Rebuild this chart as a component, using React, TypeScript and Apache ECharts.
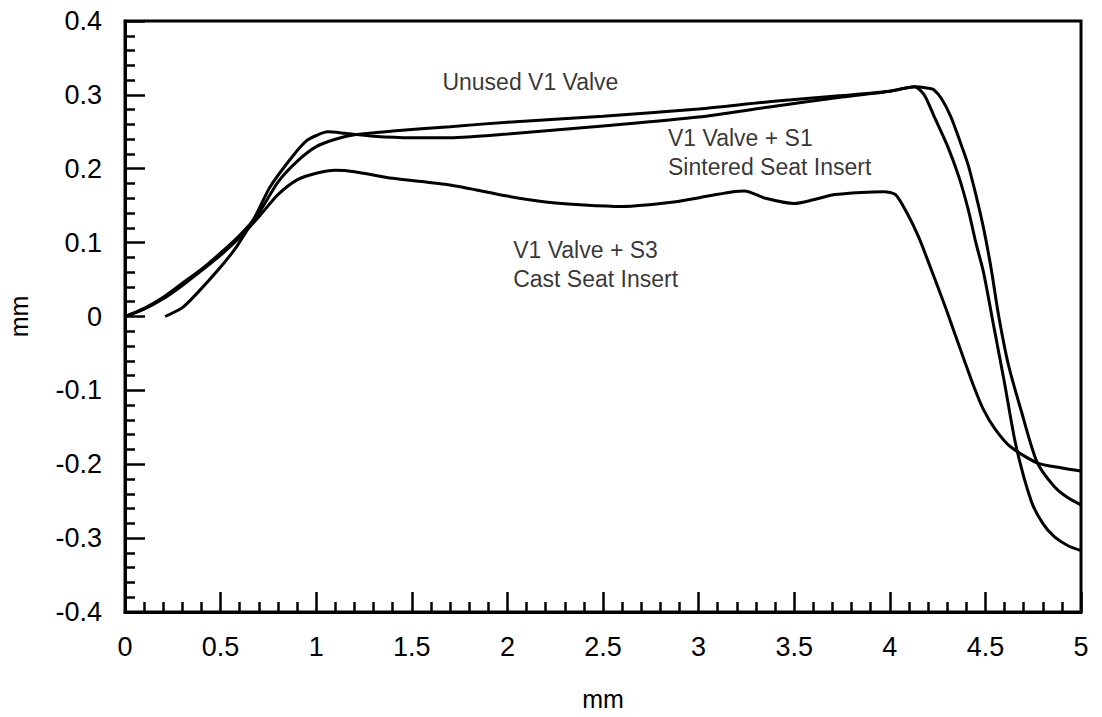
import React, { useEffect, useRef } from "react";
import * as echarts from "echarts";

// [x (mm), y (mm)] traces
const unusedV1: [number, number][] = [
  [0, 0], [0.1, 0.011], [0.2, 0.026], [0.3, 0.045], [0.4, 0.064], [0.5, 0.086],
  [0.6, 0.11], [0.7, 0.14], [0.8, 0.182], [0.9, 0.21], [1.0, 0.23], [1.1, 0.24],
  [1.2, 0.246], [1.4, 0.251], [1.7, 0.257], [2.0, 0.263], [2.5, 0.271], [3.0, 0.281],
  [3.38, 0.291], [3.75, 0.299], [4.0, 0.305], [4.13, 0.311], [4.2, 0.309], [4.23, 0.307],
  [4.27, 0.295], [4.32, 0.27], [4.37, 0.235], [4.41, 0.205], [4.45, 0.165], [4.49, 0.12],
  [4.53, 0.065], [4.57, 0.0], [4.62, -0.065], [4.69, -0.13], [4.77, -0.197], [4.86, -0.23],
  [4.93, -0.245], [5.0, -0.255],
];

const s1Sintered: [number, number][] = [
  [0.21, 0.0], [0.3, 0.012], [0.375, 0.031], [0.5, 0.067], [0.585, 0.095], [0.68, 0.135],
  [0.76, 0.176], [0.88, 0.218], [0.95, 0.238], [1.0, 0.245], [1.06, 0.25], [1.15, 0.248],
  [1.3, 0.244], [1.5, 0.242], [1.7, 0.242], [2.0, 0.247], [2.5, 0.258], [3.0, 0.27],
  [3.38, 0.284], [3.75, 0.297], [4.0, 0.305], [4.13, 0.311], [4.18, 0.3], [4.23, 0.272],
  [4.3, 0.232], [4.36, 0.19], [4.41, 0.145], [4.45, 0.1], [4.49, 0.06], [4.545, -0.015],
  [4.6, -0.09], [4.66, -0.175], [4.74, -0.25], [4.8, -0.28], [4.86, -0.298], [4.93, -0.31],
  [5.0, -0.317],
];

const s3Cast: [number, number][] = [
  [0, 0], [0.1, 0.01], [0.2, 0.024], [0.3, 0.042], [0.4, 0.062], [0.5, 0.083],
  [0.6, 0.107], [0.7, 0.135], [0.8, 0.165], [0.9, 0.185], [1.0, 0.194], [1.1, 0.198],
  [1.2, 0.196], [1.4, 0.187], [1.7, 0.178], [2.0, 0.163], [2.2, 0.155], [2.4, 0.151],
  [2.6, 0.149], [2.87, 0.155], [3.05, 0.163], [3.18, 0.169], [3.24, 0.17], [3.35, 0.16],
  [3.5, 0.153], [3.6, 0.158], [3.71, 0.165], [3.85, 0.168], [3.97, 0.169], [4.03, 0.165],
  [4.09, 0.14], [4.15, 0.108], [4.2, 0.075], [4.27, 0.027], [4.3, 0.006], [4.37, -0.045],
  [4.44, -0.095], [4.49, -0.126], [4.55, -0.152], [4.63, -0.176], [4.77, -0.198],
  [4.9, -0.205], [5.0, -0.209],
];

const annotationTexts = [
  "Unused V1 Valve",
  "V1 Valve + S1\nSintered Seat Insert",
  "V1 Valve + S3\nCast Seat Insert",
];
const annotationAnchors: [number, number][] = [
  [1.66, 0.317],
  [2.84, 0.222],
  [2.03, 0.071],
];

const xAxisName = "mm";
const yAxisName = "mm";

const FONT = "'Liberation Sans', Arial, Helvetica, sans-serif";

export default function App() {
  const ref = useRef<HTMLDivElement>(null);

  useEffect(() => {
    document.body.style.margin = "0";
    if (!ref.current) return;
    const chart = echarts.init(ref.current, undefined, { renderer: "svg" });

    const lineSeries = (name: string, data: [number, number][]) => ({
      name,
      type: "line",
      data,
      showSymbol: false,
      symbol: "none",
      smooth: 0.25,
      lineStyle: { color: "#000", width: 3 },
      itemStyle: { color: "#000" },
      silent: true,
      z: 3,
    });

    const axisCommon = {
      axisLine: { show: true, onZero: false, lineStyle: { color: "#000", width: 3 } },
      axisTick: { show: true, inside: true, length: 20, lineStyle: { color: "#000", width: 2.5 } },
      minorTick: { show: true, splitNumber: 5, length: 10, lineStyle: { color: "#000", width: 2.5 } },
      splitLine: { show: false },
      minorSplitLine: { show: false },
      nameTextStyle: { fontSize: 25, color: "#000", fontFamily: FONT },
    };

    chart.setOption({
      animation: false,
      backgroundColor: "#fff",
      textStyle: { fontFamily: FONT, color: "#000" },
      grid: {
        left: 125,
        right: 21,
        top: 21,
        bottom: 105,
        show: true,
        borderColor: "#000",
        borderWidth: 3,
        backgroundColor: "transparent",
        outerBoundsMode: "none",
      },
      xAxis: {
        type: "value",
        min: 0,
        max: 5,
        interval: 0.5,
        name: xAxisName,
        nameLocation: "middle",
        nameGap: 74,
        ...axisCommon,
        axisLabel: { fontSize: 27, color: "#000", margin: 21, fontFamily: FONT },
      },
      yAxis: {
        type: "value",
        min: -0.4,
        max: 0.4,
        interval: 0.1,
        name: yAxisName,
        nameLocation: "middle",
        nameRotate: 90,
        nameGap: 94,
        ...axisCommon,
        axisLabel: { fontSize: 27, color: "#000", margin: 23, fontFamily: FONT },
      },
      series: [
        lineSeries("Unused V1 Valve", unusedV1),
        lineSeries("V1 Valve + S1 Sintered Seat Insert", s1Sintered),
        lineSeries("V1 Valve + S3 Cast Seat Insert", s3Cast),
        {
          name: "annotations",
          type: "scatter",
          symbolSize: 0,
          silent: true,
          data: annotationAnchors.map((p, i) => ({ value: p, text: annotationTexts[i] })),
          label: {
            show: true,
            position: "right",
            distance: 0,
            align: "left",
            verticalAlign: "middle",
            fontSize: 23,
            lineHeight: 29,
            color: "#000",
            fontFamily: FONT,
            formatter: (p: any) => p.data.text,
          },
          z: 5,
        },
      ],
    });

    return () => chart.dispose();
  }, []);

  return <div ref={ref} style={{ width: 1102, height: 717 }} />;
}
